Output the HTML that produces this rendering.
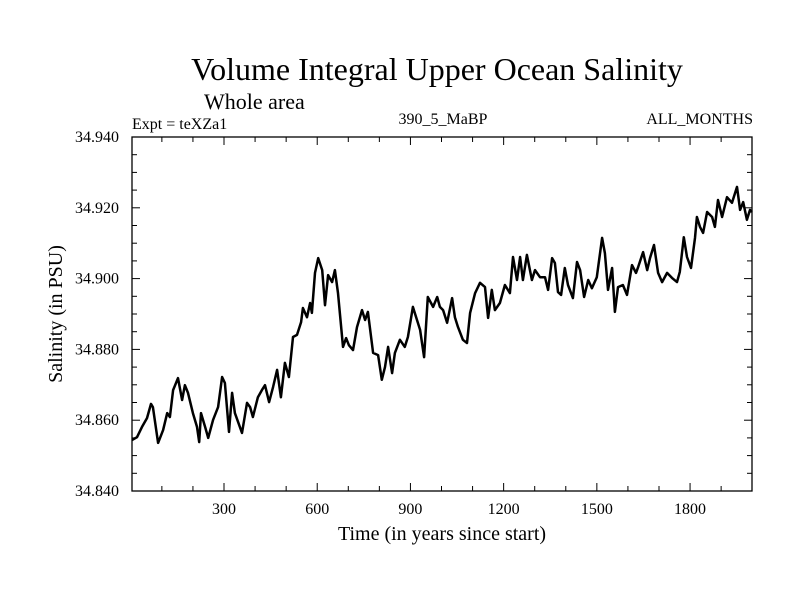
<!DOCTYPE html>
<html><head><meta charset="utf-8"><style>
body{margin:0;background:#fff}
svg{display:block;font-family:"Liberation Serif",serif}
</style></head><body>
<svg id="chart" width="800" height="600" viewBox="0 0 800 600">
<rect width="800" height="600" fill="#fff"/>
<text x="437" y="80" font-size="32" text-anchor="middle">Volume Integral Upper Ocean Salinity</text>
<text x="204" y="109" font-size="22">Whole area</text>
<text x="132" y="129" font-size="16">Expt = teXZa1</text>
<text x="443" y="124" font-size="16" text-anchor="middle">390_5_MaBP</text>
<text x="753" y="124" font-size="16" text-anchor="end">ALL_MONTHS</text>
<text x="442" y="540" font-size="20" text-anchor="middle">Time (in years since start)</text>
<text x="0" y="0" font-size="20" text-anchor="middle" transform="translate(62,314) rotate(-90)">Salinity (in PSU)</text>
<g id="axes"></g>
<g id="series"></g>
</svg>
<script>
const years=[4,20,36,52,65,71,88,104,117,126,136,152,165,174,184,200,213,220,226,239,249,265,281,294,303,316,326,335,358,374,384,393,409,422,432,445,458,471,483,496,509,522,535,548,554,567,577,583,593,603,616,625,635,648,657,667,683,693,702,715,728,744,754,763,780,796,808,818,828,841,850,866,882,892,908,921,931,944,956,973,986,995,1005,1018,1034,1043,1053,1069,1082,1092,1108,1124,1140,1150,1162,1172,1188,1204,1220,1230,1243,1253,1262,1275,1291,1301,1317,1333,1343,1356,1365,1375,1385,1397,1407,1423,1436,1446,1459,1472,1484,1500,1517,1526,1536,1549,1558,1568,1584,1597,1613,1626,1633,1649,1662,1671,1684,1697,1710,1726,1742,1758,1767,1780,1790,1803,1816,1822,1832,1842,1855,1871,1880,1890,1903,1919,1935,1951,1961,1971,1983,1993,1999];
const salinity=[34.8544,34.8552,34.8581,34.8606,34.8646,34.8637,34.8536,34.8572,34.8620,34.8609,34.8685,34.8719,34.8657,34.8699,34.8677,34.8620,34.8581,34.8538,34.8620,34.8581,34.8550,34.8601,34.8637,34.8722,34.8705,34.8567,34.8677,34.8620,34.8564,34.8649,34.8637,34.8609,34.8665,34.8685,34.8699,34.8651,34.8694,34.8742,34.8665,34.8762,34.8722,34.8835,34.8841,34.8877,34.8917,34.8891,34.8931,34.8903,34.9016,34.9058,34.9024,34.8925,34.9010,34.8990,34.9024,34.8959,34.8807,34.8832,34.8812,34.8798,34.8863,34.8911,34.8883,34.8906,34.8790,34.8784,34.8714,34.8750,34.8807,34.8733,34.8790,34.8827,34.8807,34.8835,34.8920,34.8883,34.8855,34.8778,34.8948,34.8920,34.8948,34.8920,34.8911,34.8875,34.8945,34.8891,34.8863,34.8827,34.8818,34.8903,34.8959,34.8988,34.8976,34.8889,34.8968,34.8911,34.8931,34.8982,34.8959,34.9061,34.8996,34.9061,34.8996,34.9067,34.8996,34.9024,34.9004,34.9004,34.8968,34.9058,34.9044,34.8962,34.8954,34.9030,34.8982,34.8945,34.9047,34.9024,34.8948,34.8996,34.8973,34.9004,34.9115,34.9072,34.8968,34.9030,34.8906,34.8976,34.8982,34.8954,34.9038,34.9016,34.9033,34.9075,34.9024,34.9058,34.9095,34.9016,34.8990,34.9016,34.9002,34.8990,34.9019,34.9117,34.9061,34.9030,34.9115,34.9174,34.9146,34.9129,34.9188,34.9174,34.9146,34.9222,34.9174,34.9230,34.9214,34.9259,34.9194,34.9216,34.9166,34.9194,34.9188];
const xTickLabels=["300","600","900","1200","1500","1800"];
const xTickValues=[300,600,900,1200,1500,1800];
const yTickValues=[34.84,34.86,34.88,34.90,34.92,34.94];
const yTickLabels=["34.840","34.860","34.880","34.900","34.920","34.940"];

const L=132,R=752,T=137,B=491,X0=0,X1=2000,Y0=34.84,Y1=34.94;
const PX0=130.8,PXS=0.3107;
function xs(v){return PX0+v*PXS;}
function ys(v){return B-(v-Y0)/(Y1-Y0)*(B-T);}
const NS="http://www.w3.org/2000/svg";
const axes=document.getElementById('axes');
const series=document.getElementById('series');
function mk(tag,attrs,parent){const e=document.createElementNS(NS,tag);for(const k in attrs)e.setAttribute(k,attrs[k]);parent.appendChild(e);return e;}

const frame=mk('rect',{x:L,y:T,width:R-L,height:B-T,fill:'none',stroke:'#000','stroke-width':1.3},axes);



for(let t=100;t<X1;t+=100){
  const x=xs(t);const major=t%300===0;const len=major?8:5;
  const a=mk('line',{x1:x,x2:x,y1:B,y2:B-len,stroke:'#000','stroke-width':1},axes);
  
  
  const b=mk('line',{x1:x,x2:x,y1:T,y2:T+len,stroke:'#000','stroke-width':1},axes);
  
  
}
xTickValues.forEach((v,i)=>{
  const t=mk('text',{x:xs(v),y:514,'font-size':16,'text-anchor':'middle'},axes);
  t.textContent=xTickLabels[i];
  
  
});
for(let k=1;k<20;k++){
  const v=Y0+k*0.005;const y=ys(v);const major=k%4===0;const len=major?8:5;
  const a=mk('line',{x1:L,x2:L+len,y1:y,y2:y,stroke:'#000','stroke-width':1},axes);
  
  
  const b=mk('line',{x1:R,x2:R-len,y1:y,y2:y,stroke:'#000','stroke-width':1},axes);
  
  
}
yTickValues.forEach((v,i)=>{
  const t=mk('text',{x:119,y:ys(v)+5,'font-size':16,'text-anchor':'end'},axes);
  t.textContent=yTickLabels[i];
  
  
});
const d=years.map((yr,i)=>(i?'L':'M')+xs(yr).toFixed(1)+','+ys(salinity[i]).toFixed(1)).join('');
const line=mk('path',{d:d,fill:'none',stroke:'#000','stroke-width':2.5,'stroke-linejoin':'round'},series);


</script>
</body></html>
